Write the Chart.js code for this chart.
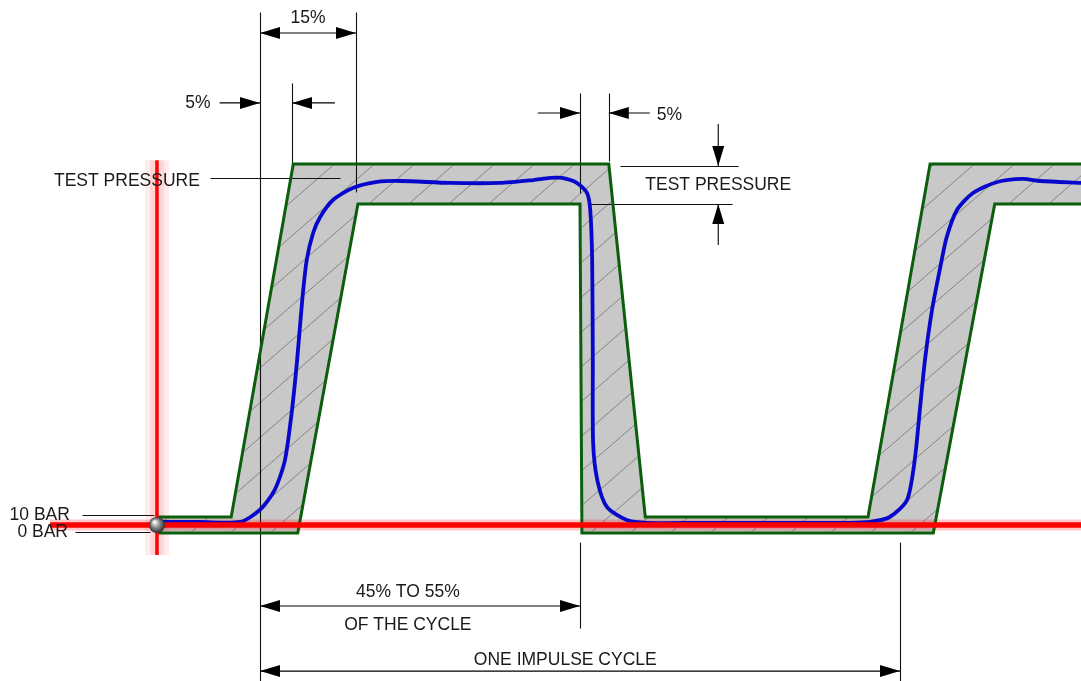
<!DOCTYPE html>
<html>
<head>
<meta charset="utf-8">
<script src="https://cdn.jsdelivr.net/npm/chart.js@4/dist/chart.umd.min.js"></script>
<style>
  body { margin: 0; background: #fff; }
  canvas { display: block; }
</style>
</head>
<body>
<canvas id="impulse" width="1081" height="681"></canvas>
<script>
// x = time in % of one impulse cycle, y = pressure in bar
const upperTime = [-16.1, -4.5, 5.2, 54.5, 60.2, 95, 104.7, 130];
const upperBar  = [10, 10, 230.6, 230.6, 10, 10, 230.6, 230.6];
const lowerTime = [-16.1, 5.9, 15.3, 50, 50.3, 105.2, 114.8, 130];
const lowerBar  = [0, 0, 205.6, 205.6, 0, 0, 205.6, 205.6];

const traceTime = [-16.1, -9.4, -3.1, 0, 2.3, 3.9, 5.0, 5.8, 6.6, 7.3, 8.3, 9.4, 11.4, 14.5, 18.3,
  21.9, 29.7, 37.5, 42.7, 45.3, 47.2, 49.5, 51.1, 51.6, 51.9, 52.0, 52.05, 52.7, 54.2, 57.3, 60.5,
  68.8, 84.4, 92.2, 95.3, 98.4, 101.1, 102.3, 103.1, 103.9, 105, 106.3, 107.3, 108.9, 111.4, 115.2,
  119.2, 121.9, 128.3];
const traceBar = [6.9, 6.9, 6.9, 14.4, 26.9, 45.6, 76.9, 108.1, 145.6, 170.6, 187.5, 197.5, 208.1, 215.6, 219.4,
  220, 218.8, 218.8, 220.6, 221.9, 221.9, 218.8, 212.5, 201.9, 170.6, 108.1, 56.3, 33.1, 16.3, 8.1, 6.3,
  6.3, 6.3, 6.3, 6.9, 10, 20.6, 45.6, 76.9, 108.1, 139.4, 166.3, 185, 201.9, 212.5, 219.4,
  221.3, 220, 218.8];

const baseTime = [-32.8, 130];
const baseBar  = [5, 5];
const axisTime = [-16.1, -16.1];
const axisBar  = [233, -13.75];

const toPoints = (xs, ys) => xs.map((x, i) => ({ x: x, y: ys[i] }));

const FONT = '17.5px "Liberation Sans", Arial, sans-serif';

// dimension lines: [x1, y1, x2, y2] in chart units
const thinLines = [
  [0, 325.6, 0, -92.5],
  [15, 325.6, 15, 213.1],
  [5, 281.3, 5, 230.6],
  [50, 275, 50, 212.5],
  [54.5, 275, 54.5, 232.5],
  [50, -5.6, 50, -59.4],
  [100, -5.6, 100, -92.5],
  [-7.8, 221.9, 12.5, 221.9],
  [56.3, 229.4, 74.7, 229.4],
  [51.6, 205.6, 73.8, 205.6],
  [-27.8, 11.3, -16.6, 11.3],
  [-28.9, 0.6, -17.2, 0.6]
];
// arrows: [fromX, fromY, tipX, tipY]
const arrows = [
  [7.5, 312.5, 0, 312.5], [7.5, 312.5, 15, 312.5],
  [-6.3, 268.8, 0, 268.8], [11.7, 268.8, 5, 268.8],
  [43.4, 262.5, 50, 262.5], [60.9, 262.5, 54.5, 262.5],
  [71.6, 255.6, 71.6, 229.4], [71.6, 180, 71.6, 205.6],
  [25, -45.6, 0, -45.6], [25, -45.6, 50, -45.6],
  [50, -86.3, 0, -86.3], [50, -86.3, 100, -86.3]
];
// texts: [text, x, y, align]
const texts = [
  ['15%', 7.5, 321.9, 'center'],
  ['5%', -9.7, 268.8, 'center'],
  ['5%', 62, 261.3, 'left'],
  ['TEST PRESSURE', -9.4, 220, 'right'],
  ['TEST PRESSURE', 71.6, 217.5, 'center'],
  ['10 BAR', -29.7, 11.3, 'right'],
  ['0 BAR', -30, 0.6, 'right'],
  ['45% TO 55%', 23.1, -36.9, 'center'],
  ['OF THE CYCLE', 23.1, -57.5, 'center'],
  ['ONE IMPULSE CYCLE', 47.7, -79.4, 'center']
];

const drawing = {
  id: 'drawing',
  beforeDatasetsDraw(chart) {
    const { ctx, chartArea: a } = chart;
    const sx = chart.scales.x, sy = chart.scales.y;
    const X = v => sx.getPixelForValue(v), Y = v => sy.getPixelForValue(v);
    ctx.save();
    ctx.beginPath();
    ctx.rect(a.left, a.top, a.right - a.left, a.bottom - a.top);
    ctx.clip();
    // tolerance band
    ctx.beginPath();
    upperTime.forEach((t, i) => i ? ctx.lineTo(X(t), Y(upperBar[i])) : ctx.moveTo(X(t), Y(upperBar[i])));
    for (let i = lowerTime.length - 1; i >= 0; i--) ctx.lineTo(X(lowerTime[i]), Y(lowerBar[i]));
    ctx.closePath();
    ctx.fillStyle = '#c8c8c8';
    ctx.fill();
    ctx.clip();
    ctx.strokeStyle = '#7c7c7c';
    ctx.lineWidth = 0.9;
    ctx.beginPath();
    for (let c = -700; c < 1900; c += 40) {
      ctx.moveTo(c, a.bottom);
      ctx.lineTo(c + (a.bottom - a.top) * 1.15, a.top);
    }
    ctx.stroke();
    ctx.restore();

    ctx.save();
    ctx.strokeStyle = '#111';
    ctx.lineWidth = 1.1;
    ctx.beginPath();
    thinLines.forEach(l => {
      ctx.moveTo(Math.round(X(l[0])) + 0.5, Math.round(Y(l[1])) + 0.5);
      ctx.lineTo(Math.round(X(l[2])) + 0.5, Math.round(Y(l[3])) + 0.5);
    });
    ctx.stroke();
    ctx.restore();
  },
  afterDatasetsDraw(chart) {
    const { ctx } = chart;
    const sx = chart.scales.x, sy = chart.scales.y;
    const X = v => sx.getPixelForValue(v), Y = v => sy.getPixelForValue(v);
    ctx.save();
    ctx.strokeStyle = '#000';
    ctx.fillStyle = '#000';
    ctx.lineWidth = 1.1;
    arrows.forEach(r => {
      const x1 = X(r[0]), y1 = Y(r[1]), x2 = X(r[2]), y2 = Y(r[3]);
      const ang = Math.atan2(y2 - y1, x2 - x1);
      ctx.beginPath();
      ctx.moveTo(x1, y1);
      ctx.lineTo(x2, y2);
      ctx.stroke();
      ctx.beginPath();
      ctx.moveTo(x2, y2);
      ctx.lineTo(x2 - 20 * Math.cos(ang) + 6 * Math.sin(ang), y2 - 20 * Math.sin(ang) - 6 * Math.cos(ang));
      ctx.lineTo(x2 - 20 * Math.cos(ang) - 6 * Math.sin(ang), y2 - 20 * Math.sin(ang) + 6 * Math.cos(ang));
      ctx.closePath();
      ctx.fill();
    });
    ctx.font = FONT;
    ctx.textBaseline = 'middle';
    ctx.fillStyle = '#1a1a1a';
    texts.forEach(t => {
      ctx.textAlign = t[3];
      ctx.fillText(t[0], X(t[1]), Y(t[2]));
    });
    // origin ball
    const bx = X(axisTime[0]), by = Y(baseBar[0]);
    const g = ctx.createRadialGradient(bx - 2.5, by - 3, 1, bx, by, 8.5);
    g.addColorStop(0, '#f4f4f4');
    g.addColorStop(0.45, '#8a8a8a');
    g.addColorStop(1, '#222');
    ctx.beginPath();
    ctx.arc(bx, by, 8, 0, Math.PI * 2);
    ctx.fillStyle = g;
    ctx.fill();
    ctx.restore();
  }
};

const lineSet = (data, color, width, order, extra) => Object.assign({
  data: data, showLine: true, borderColor: color, borderWidth: width,
  pointRadius: 0, fill: false, order: order, tension: 0
}, extra || {});

new Chart(document.getElementById('impulse'), {
  type: 'scatter',
  data: {
    datasets: [
      lineSet(toPoints(axisTime, axisBar), 'rgba(255,0,0,0.07)', 24, 7),
      lineSet(toPoints(axisTime, axisBar), 'rgba(255,0,0,0.10)', 14, 6),
      lineSet(toPoints(baseTime, baseBar), 'rgba(255,0,0,0.22)', 11, 5),
      lineSet(toPoints(upperTime, upperBar), '#0b5e0b', 3, 4, { borderJoinStyle: 'miter' }),
      lineSet(toPoints(lowerTime, lowerBar), '#0b5e0b', 3, 4, { borderJoinStyle: 'miter' }),
      lineSet(toPoints(traceTime, traceBar), '#0808cc', 3.8, 3, { tension: 0.25 }),
      lineSet(toPoints(axisTime, axisBar), '#ff0000', 3.5, 1),
      lineSet(toPoints(baseTime, baseBar), '#ff0000', 5.5, 1)
    ]
  },
  options: {
    responsive: false,
    animation: false,
    devicePixelRatio: 1,
    layout: { padding: 0 },
    scales: {
      x: { type: 'linear', min: -40.625, max: 128.28, display: false },
      y: { type: 'linear', min: -92.5, max: 333.125, display: false }
    },
    plugins: {
      legend: { display: false },
      tooltip: { enabled: false }
    }
  },
  plugins: [drawing]
});
</script>
</body>
</html>
